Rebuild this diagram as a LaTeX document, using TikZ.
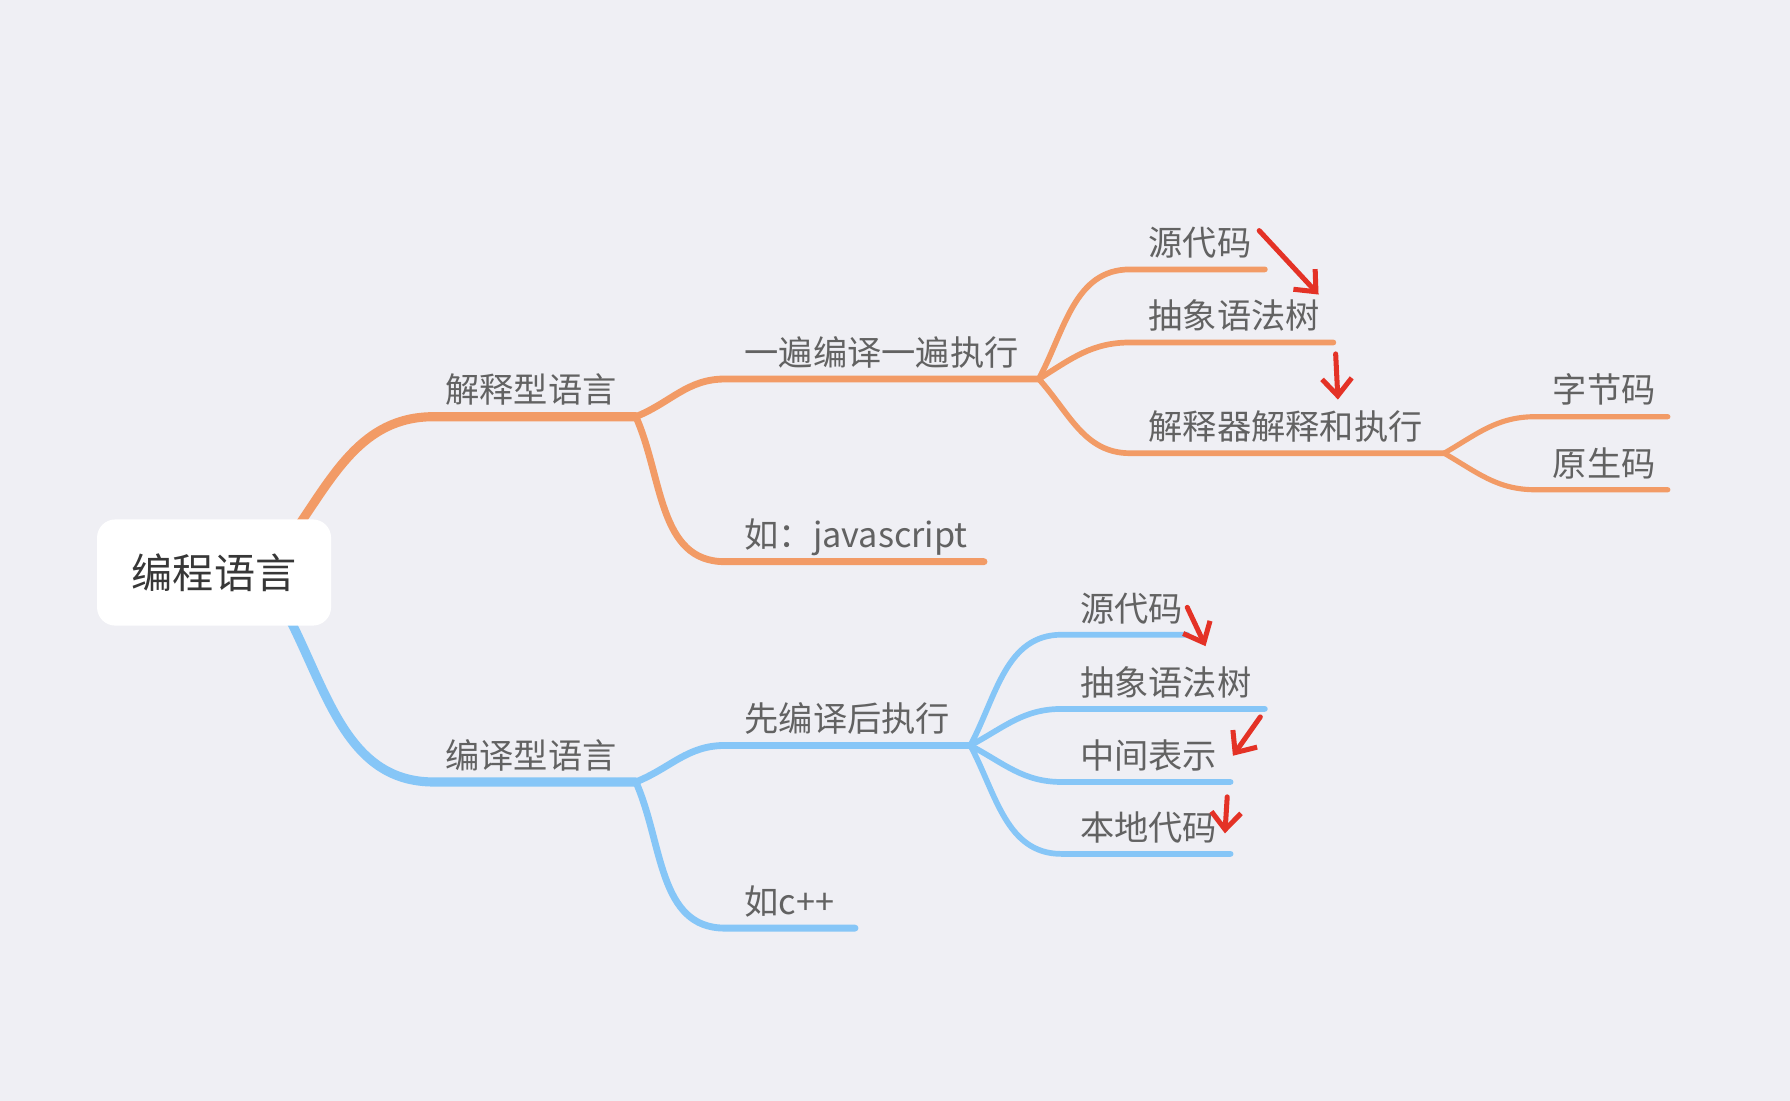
\documentclass[tikz,border=0pt]{standalone}
\usepackage{fontspec}
\setmainfont{Noto Sans CJK SC}
\usetikzlibrary{arrows.meta,calc}
\definecolor{bg}{RGB}{239,239,244}
\definecolor{org}{RGB}{242,155,102}
\definecolor{blu}{RGB}{134,198,247}
\definecolor{txt}{RGB}{98,98,98}
\definecolor{roottxt}{RGB}{55,55,55}
\definecolor{redar}{RGB}{228,50,38}
\begin{document}
\begin{tikzpicture}[x=1pt,y=1pt,
  lbl/.style={anchor=base west, inner sep=0pt, text=txt, font=\fontsize{30}{36}\selectfont},
  conn/.style={out=#1,in=180},
  lone/.style={line width=8pt, line cap=round},
  ltwo/.style={line width=6pt, line cap=round},
  lthree/.style={line width=5pt, line cap=round},
  lfour/.style={line width=4.5pt, line cap=round},
  redarrow/.style={draw=redar, line width=4.4pt, line cap=round, line join=round,
    -{Straight Barb[length=15pt,width=26pt,line width=4.4pt]}},
  rootbox/.style={fill=white, rounded corners=16pt, minimum width=205pt, minimum height=93pt,
    text=roottxt, font=\fontsize{36}{42}\selectfont, inner sep=0pt}
]
\useasboundingbox (0,0) rectangle (1568,-964);
\fill[bg] (0,0) rectangle (1568,-964);

% ---------- coordinates ----------
\coordinate (r-o) at (255,-470);
\coordinate (r-b) at (250,-535);
% orange
\coordinate (i-s) at (380,-365);   \coordinate (i-e) at (557,-365);
\coordinate (i1-s) at (635,-332);  \coordinate (i1-e) at (910,-332);
\coordinate (i2-s) at (635,-492);  \coordinate (i2-e) at (862,-492);
\coordinate (a1-s) at (990,-236);  \coordinate (a1-e) at (1108,-236);
\coordinate (a2-s) at (990,-300);  \coordinate (a2-e) at (1168,-300);
\coordinate (a3-s) at (990,-397);  \coordinate (a3-e) at (1265,-397);
\coordinate (b1-s) at (1345,-365); \coordinate (b1-e) at (1461,-365);
\coordinate (b2-s) at (1345,-429); \coordinate (b2-e) at (1461,-429);
% blue
\coordinate (c-s) at (380,-685);   \coordinate (c-e) at (557,-685);
\coordinate (c1-s) at (635,-653);  \coordinate (c1-e) at (850,-653);
\coordinate (c2-s) at (635,-813);  \coordinate (c2-e) at (749,-813);
\coordinate (d1-s) at (930,-556);  \coordinate (d1-e) at (1040,-556);
\coordinate (d2-s) at (930,-621);  \coordinate (d2-e) at (1108,-621);
\coordinate (d3-s) at (930,-685);  \coordinate (d3-e) at (1078,-685);
\coordinate (d4-s) at (930,-748);  \coordinate (d4-e) at (1078,-748);

% ---------- orange branch ----------
\begin{scope}[draw=org]
\draw[lone] (r-o) to[conn=55] (i-s) -- (i-e);
\draw[ltwo] (i-e) to[conn=22] (i1-s) -- (i1-e);
\draw[ltwo] (i-e) to[conn=-66] (i2-s) -- (i2-e);
\draw[lthree] (i1-e) to[conn=62] (a1-s) -- (a1-e);
\draw[lthree] (i1-e) to[conn=32] (a2-s) -- (a2-e);
\draw[lthree] (i1-e) to[conn=-48] (a3-s) -- (a3-e);
\draw[lfour] (a3-e) to[conn=30] (b1-s) -- (b1-e);
\draw[lfour] (a3-e) to[conn=-30] (b2-s) -- (b2-e);
\end{scope}

% ---------- blue branch ----------
\begin{scope}[draw=blu]
\draw[lone] (r-b) to[conn=-62] (c-s) -- (c-e);
\draw[ltwo] (c-e) to[conn=22] (c1-s) -- (c1-e);
\draw[ltwo] (c-e) to[conn=-66] (c2-s) -- (c2-e);
\draw[lthree] (c1-e) to[conn=62] (d1-s) -- (d1-e);
\draw[lthree] (c1-e) to[conn=28] (d2-s) -- (d2-e);
\draw[lthree] (c1-e) to[conn=-28] (d3-s) -- (d3-e);
\draw[lthree] (c1-e) to[conn=-62] (d4-s) -- (d4-e);
\end{scope}

% ---------- root ----------
\node[rootbox] (root) at (187.5,-501.5) {编程语言};

% ---------- labels ----------
\node[lbl] (l-i)  at ($(i-s)+(10,12)$) {解释型语言};
\node[lbl] (l-i1) at ($(i1-s)+(17,12)$) {一遍编译一遍执行};
\node[lbl] (l-i2) at ($(i2-s)+(17,12)$) {如：javascript};
\node[lbl] (l-a1) at ($(a1-s)+(16,12)$) {源代码};
\node[lbl] (l-a2) at ($(a2-s)+(16,12)$) {抽象语法树};
\node[lbl] (l-a3) at ($(a3-s)+(16,12)$) {解释器解释和执行};
\node[lbl] (l-b1) at ($(b1-s)+(15,12)$) {字节码};
\node[lbl] (l-b2) at ($(b2-s)+(15,12)$) {原生码};

\node[lbl] (l-c)  at ($(c-s)+(10,12)$) {编译型语言};
\node[lbl] (l-c1) at ($(c1-s)+(17,12)$) {先编译后执行};
\node[lbl] (l-c2) at ($(c2-s)+(17,12)$) {如c++};
\node[lbl] (l-d1) at ($(d1-s)+(16,12)$) {源代码};
\node[lbl] (l-d2) at ($(d2-s)+(16,12)$) {抽象语法树};
\node[lbl] (l-d3) at ($(d3-s)+(16,12)$) {中间表示};
\node[lbl] (l-d4) at ($(d4-s)+(16,12)$) {本地代码};

% ---------- red arrows ----------
\coordinate (ra1) at (1103,-202); \coordinate (rb1) at (1155,-258);
\coordinate (ra2) at (1170,-310); \coordinate (rb2) at (1172,-350);
\coordinate (ra3) at (1040,-532); \coordinate (rb3) at (1056,-566);
\coordinate (ra4) at (1104,-628); \coordinate (rb4) at (1080,-662);
\coordinate (ra5) at (1075,-698); \coordinate (rb5) at (1073,-730);
\draw[redarrow] (ra1) -- (rb1);
\draw[redarrow] (ra2) -- (rb2);
\draw[redarrow] (ra3) -- (rb3);
\draw[redarrow] (ra4) -- (rb4);
\draw[redarrow] (ra5) -- (rb5);
\end{tikzpicture}
\end{document}
